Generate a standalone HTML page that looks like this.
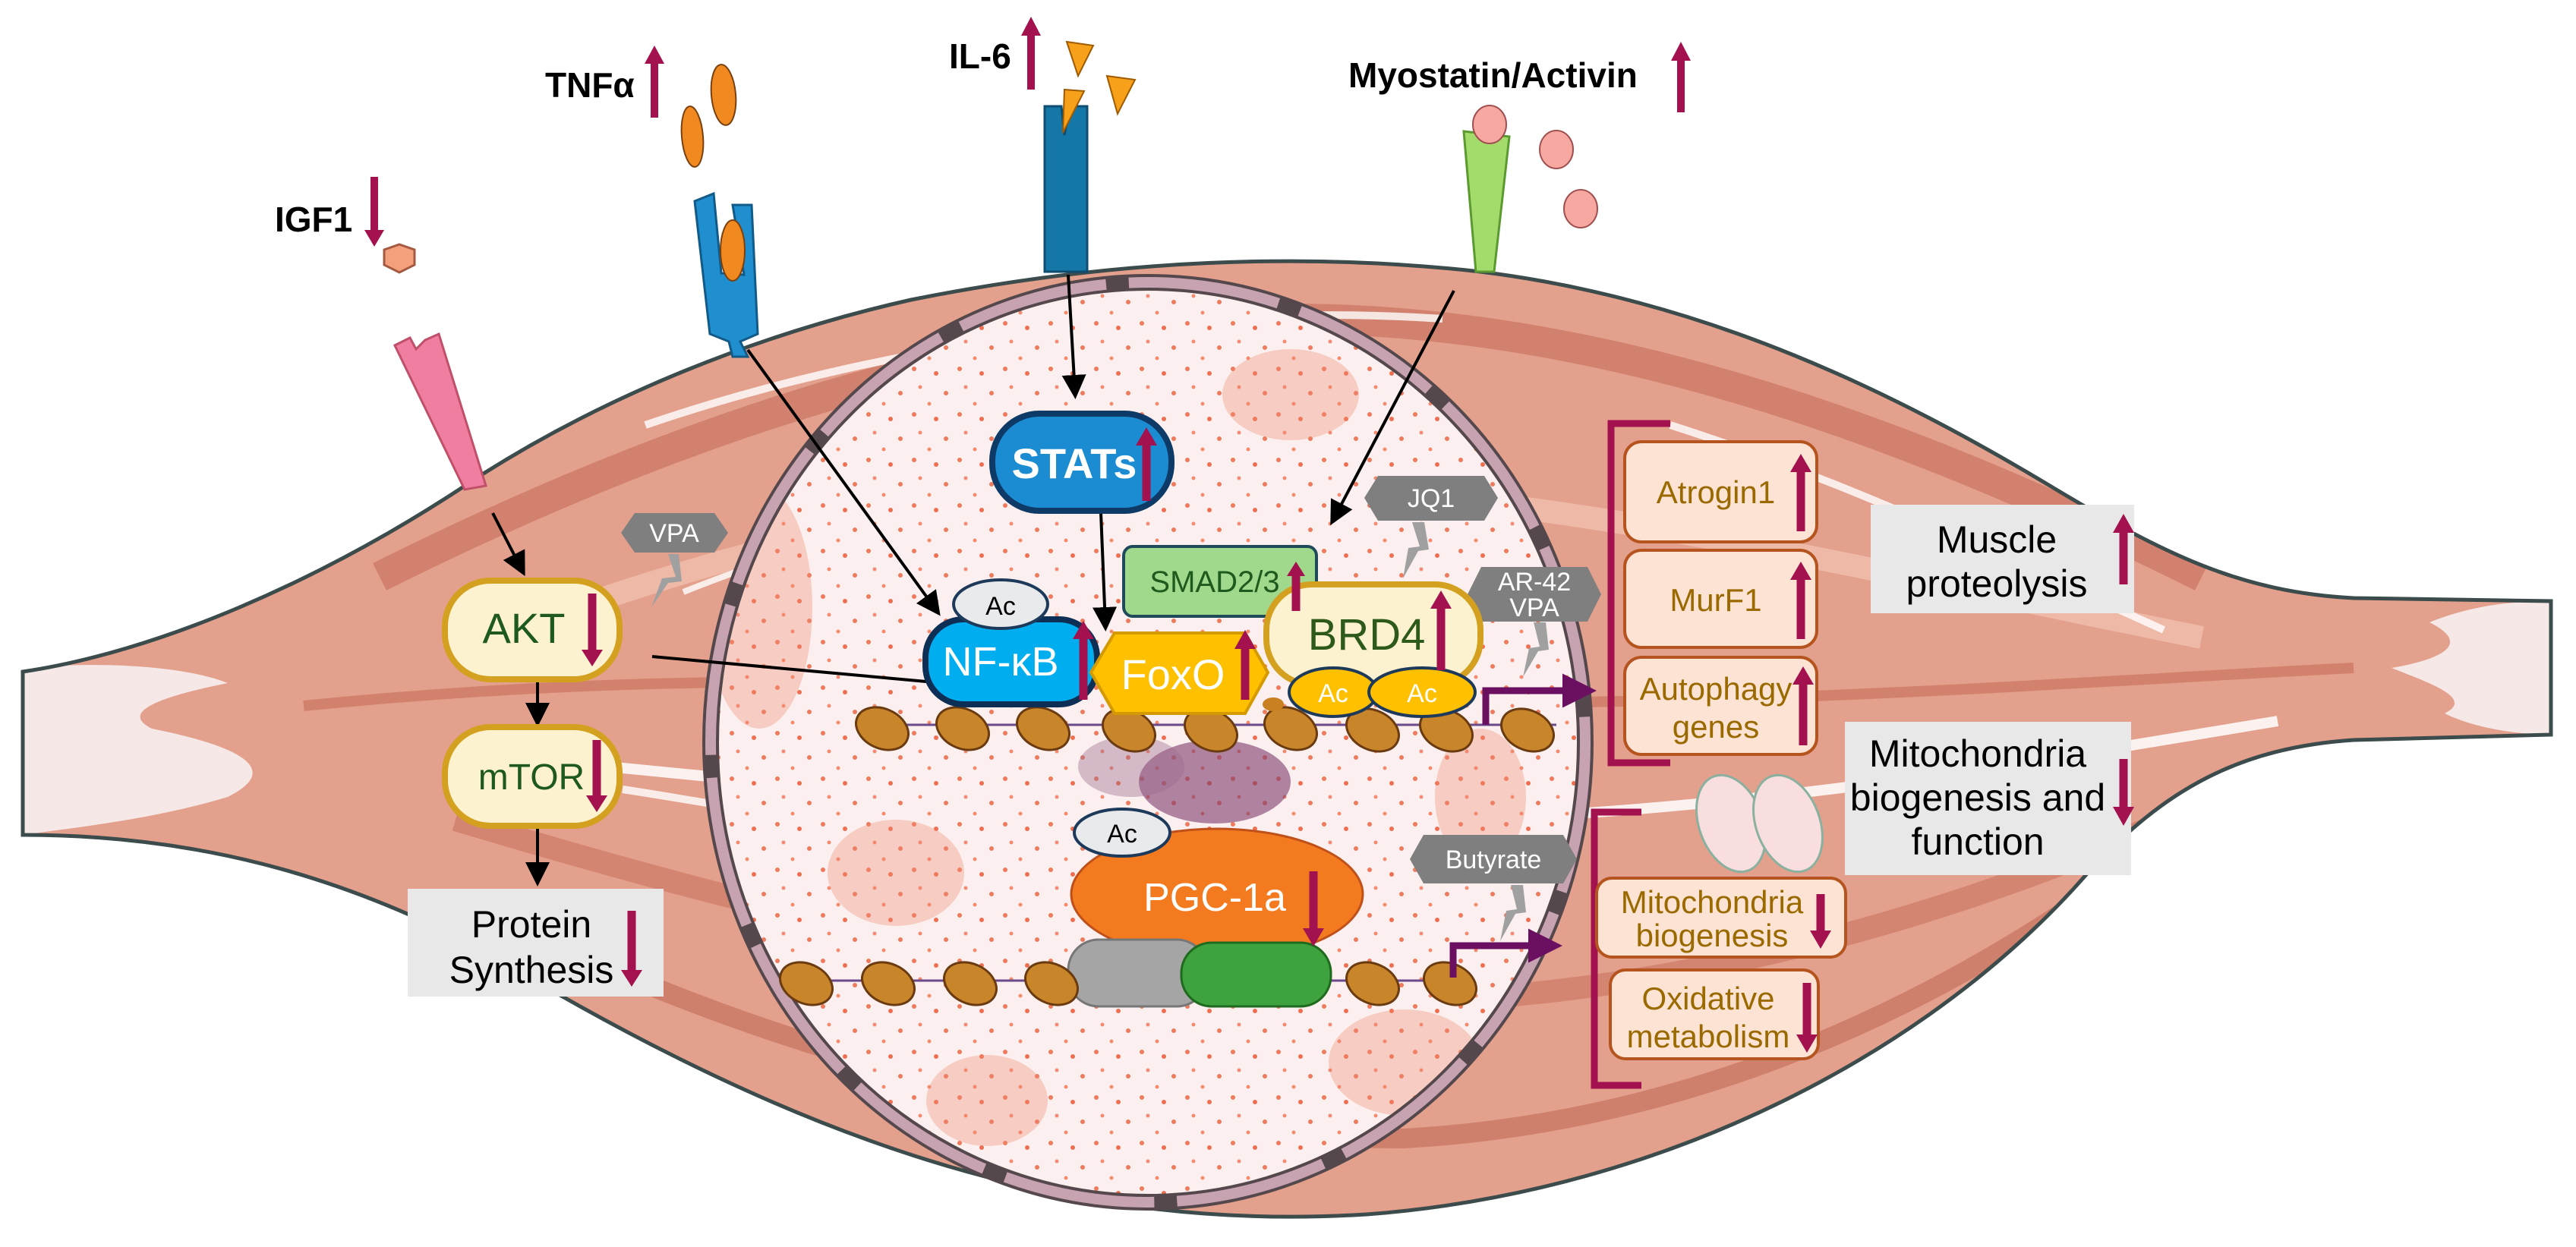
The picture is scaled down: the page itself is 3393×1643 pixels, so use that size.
<!DOCTYPE html>
<html><head><meta charset="utf-8"><style>
html,body{margin:0;padding:0;background:#fff;}
svg{display:block;}
text{font-family:"Liberation Sans",Arial,sans-serif;}
</style></head><body>
<svg width="3393" height="1643" viewBox="0 0 3393 1643" xmlns="http://www.w3.org/2000/svg">
<defs>
<pattern id="dots" width="60" height="60" patternUnits="userSpaceOnUse">
<rect width="60" height="60" fill="#fbf0ef"/>
<circle cx="4" cy="6" r="3" fill="#f07a5c"/><circle cx="33" cy="12" r="3" fill="#ee7052"/>
<circle cx="12" cy="30" r="2.5" fill="#f28b70"/><circle cx="46" cy="38" r="3" fill="#ef7a5e"/>
<circle cx="24" cy="52" r="2.5" fill="#f28b70"/>
</pattern>
<clipPath id="mclip"><path id="mpath" d="M30,885 C200,860 420,770 632,627 C800,520 1000,440 1200,395 C1450,345 1700,330 1950,358 C2250,395 2500,520 2700,640 C2850,730 2950,780 3100,788 L3360,792 L3360,968 L3100,975 C2950,985 2850,1040 2750,1150 C2550,1380 2200,1570 1800,1600 C1400,1625 1050,1500 650,1260 C450,1150 250,1100 30,1100 Z"/></clipPath>
<clipPath id="nclip"><ellipse cx="1512" cy="978" rx="576" ry="606"/></clipPath>
<marker id="ah" markerWidth="8" markerHeight="8" refX="6" refY="4" orient="auto" markerUnits="strokeWidth"><path d="M0,0 L8,4 L0,8 Z" fill="#000"/></marker>
<marker id="ap" markerWidth="5" markerHeight="5" refX="3" refY="2.5" orient="auto" markerUnits="strokeWidth"><path d="M0,0 L5,2.5 L0,5 Z" fill="#6b1060"/></marker>
</defs>

<g clip-path="url(#mclip)">
<rect x="0" y="300" width="3393" height="1343" fill="#e3a08c"/>
<path d="M500,760 C900,560 1300,430 1700,420 C2100,420 2500,560 2900,760" stroke="#c9735f" stroke-width="40" fill="none" opacity="0.7"/>
<path d="M600,860 C1000,700 1400,620 1700,640 C2100,660 2500,760 2900,840" stroke="#f4c3b3" stroke-width="30" fill="none" opacity="0.7"/>
<path d="M400,930 C900,880 1300,900 1700,920 C2200,940 2700,900 3100,880" stroke="#d2826c" stroke-width="14" fill="none"/>
<path d="M700,1000 C1100,1040 1500,1080 1900,1080 C2300,1070 2700,1000 3000,950" stroke="#fff" stroke-width="14" fill="none" opacity="0.85"/>
<path d="M600,1080 C1000,1200 1400,1300 1800,1320 C2200,1320 2600,1200 2900,1060" stroke="#c9735f" stroke-width="30" fill="none" opacity="0.6"/>
<path d="M700,1230 C1100,1420 1500,1500 1850,1500 C2200,1480 2500,1350 2750,1180" stroke="#c26a57" stroke-width="26" fill="none" opacity="0.6"/>
<path d="M850,560 C1200,440 1600,400 1900,420" stroke="#fff" stroke-width="10" fill="none" opacity="0.8"/>
<path d="M2200,560 C2450,640 2650,740 2850,830" stroke="#fff" stroke-width="10" fill="none" opacity="0.8"/>
<path d="M900,780 C1100,700 1200,690 1300,680" stroke="#fff" stroke-width="8" fill="none" opacity="0.8"/>
<path d="M820,1040 C950,1060 1050,1080 1150,1090" stroke="#fff" stroke-width="10" fill="none" opacity="0.8"/>
<path d="M30,880 C150,870 250,880 300,900 C200,920 160,940 200,960 C300,980 380,1010 300,1050 C200,1080 100,1090 30,1100 Z" fill="#f5e8e6"/>
<path d="M3360,792 C3300,792 3250,800 3200,820 C3260,850 3210,870 3150,880 C3200,900 3260,920 3220,940 C3260,960 3320,968 3360,968 Z" fill="#f5e8e6"/>
</g>
<use href="#mpath" fill="none" stroke="#3c4b4b" stroke-width="5"/>

<!-- nucleus -->
<ellipse cx="1512" cy="978" rx="576" ry="606" fill="url(#dots)"/>
<g clip-path="url(#nclip)" fill="#f08a70" opacity="0.35">
<ellipse cx="1000" cy="800" rx="70" ry="160"/>
<ellipse cx="1180" cy="1150" rx="90" ry="70"/>
<ellipse cx="1700" cy="520" rx="90" ry="60"/>
<ellipse cx="1850" cy="1400" rx="100" ry="70"/>
<ellipse cx="1300" cy="1450" rx="80" ry="60"/>
<ellipse cx="1950" cy="1050" rx="60" ry="90"/>
</g>
<ellipse cx="1512" cy="978" rx="576" ry="606" fill="none" stroke="#54484c" stroke-width="22"/>
<ellipse cx="1512" cy="978" rx="576" ry="606" fill="none" stroke="#c7a2b0" stroke-width="14" stroke-dasharray="200 30"/>
<ellipse cx="1600" cy="1030" rx="100" ry="55" fill="#7d3a6a" opacity="0.6"/>
<ellipse cx="1490" cy="1010" rx="70" ry="40" fill="#9a6a8a" opacity="0.4"/>

<path d="M520,455 L540,445 L548,460 L560,448 L578,440 L640,640 L612,645 Z" fill="#f07ea0" stroke="#c0506a" stroke-width="3"/>
<polygon points="526,322 546,329 546,349 526,359 506,349 506,329" fill="#f5a07c" stroke="#a45a40" stroke-width="3"/>
<path d="M915,265 L940,255 L950,360 L980,362 L965,270 L990,270 L998,440 L975,450 L985,470 L965,470 L960,450 L935,440 Z" fill="#1f8fd0" stroke="#125a88" stroke-width="3"/>
<ellipse cx="965" cy="330" rx="16" ry="40" fill="#f08a20" stroke="#7a4010" stroke-width="2"/>
<ellipse cx="953" cy="125" rx="16" ry="40" fill="#f08a20" stroke="#7a4010" stroke-width="2" transform="rotate(-5 953 125)"/>
<ellipse cx="912" cy="180" rx="14" ry="40" fill="#f08a20" stroke="#7a4010" stroke-width="2" transform="rotate(-5 912 180)"/>
<path d="M1376,140 L1398,140 L1402,178 L1410,140 L1432,140 L1432,358 L1376,358 Z" fill="#1577a8" stroke="#0e4c70" stroke-width="3"/>
<polygon points="1402,118 1428,120 1400,175" fill="#f7a11a" stroke="#a05a00" stroke-width="2"/>
<polygon points="1405,55 1440,60 1420,100" fill="#f7a11a" stroke="#a05a00" stroke-width="2"/>
<polygon points="1458,100 1495,105 1472,150" fill="#f7a11a" stroke="#a05a00" stroke-width="2"/>
<path d="M1928,173 L1988,180 L1968,358 L1944,358 Z" fill="#a4dc6c" stroke="#5a9a30" stroke-width="3"/>
<ellipse cx="1962" cy="164" rx="22" ry="25" fill="#f7a8a0" stroke="#a05050" stroke-width="2"/>
<ellipse cx="2050" cy="197" rx="22" ry="25" fill="#f7a8a0" stroke="#a05050" stroke-width="2"/>
<ellipse cx="2082" cy="275" rx="22" ry="25" fill="#f7a8a0" stroke="#a05050" stroke-width="2"/>

<g font-weight="bold" font-size="46" fill="#000">
<text x="362" y="305">IGF1</text>
<text x="718" y="128">TNFα</text>
<text x="1250" y="90">IL-6</text>
<text x="1776" y="115">Myostatin/Activin</text>
</g>
<g stroke="#a3114e" stroke-width="10" fill="#a3114e">
<line x1="493" y1="233" x2="493" y2="305"/><polygon points="480,303 506,303 493,325" stroke="none"/>
<line x1="862" y1="155" x2="862" y2="82"/><polygon points="849,84 875,84 862,60" stroke="none"/>
<line x1="1358" y1="118" x2="1358" y2="45"/><polygon points="1345,47 1371,47 1358,22" stroke="none"/>
<line x1="2214" y1="148" x2="2214" y2="78"/><polygon points="2201,80 2227,80 2214,55" stroke="none"/>
</g>

<g stroke="#000" stroke-width="4" fill="none" marker-end="url(#ah)">
<line x1="649" y1="676" x2="688" y2="752"/>
<line x1="1407" y1="362" x2="1416" y2="518"/>
<line x1="985" y1="461" x2="1234" y2="805"/>
<line x1="1915" y1="383" x2="1756" y2="685"/>
<line x1="708" y1="896" x2="708" y2="950"/>
<line x1="708" y1="1090" x2="708" y2="1160"/>
<line x1="1450" y1="675" x2="1456" y2="824"/>
</g>
<line x1="859" y1="865" x2="1220" y2="898" stroke="#000" stroke-width="4"/>

<rect x="586" y="765" width="230" height="130" rx="60" fill="#fdf2cf" stroke="#d4a020" stroke-width="8"/>
<text x="690" y="847" font-size="56" fill="#1e5a1e" text-anchor="middle">AKT</text>
<rect x="586" y="958" width="230" height="130" rx="60" fill="#fdf2cf" stroke="#d4a020" stroke-width="8"/>
<text x="700" y="1040" font-size="48" fill="#1e5a1e" text-anchor="middle">mTOR</text>
<rect x="537" y="1171" width="337" height="142" fill="#e8e8e8"/>
<text x="700" y="1235" font-size="50" text-anchor="middle">Protein</text>
<text x="700" y="1295" font-size="50" text-anchor="middle">Synthesis</text>

<g fill="#7f7f7f">
<polygon points="818,702 836,676 941,676 959,702 941,728 836,728"/>
<polygon points="1797,656 1815,627 1955,627 1973,656 1955,686 1815,686"/>
<polygon points="1933,783 1951,747 2091,747 2109,783 2091,819 1951,819"/>
<polygon points="1857,1132 1875,1100 2059,1100 2077,1132 2059,1164 1875,1164"/>
</g>
<g fill="#a0a0a0">
<polygon points="880,730 890,760 872,762 858,800 880,768 898,766 894,730"/>
<polygon points="1860,688 1870,720 1855,722 1848,762 1868,726 1882,724 1876,688"/>
<polygon points="2020,820 2028,852 2014,854 2006,892 2026,858 2040,856 2036,820"/>
<polygon points="1990,1166 1998,1198 1984,1200 1976,1240 1996,1204 2010,1202 2006,1166"/>
</g>
<g fill="#fff" font-size="34" text-anchor="middle">
<text x="888" y="714">VPA</text>
<text x="1885" y="668">JQ1</text>
<text x="2021" y="778">AR-42</text>
<text x="2021" y="812">VPA</text>
<text x="1967" y="1144">Butyrate</text>
</g>

<line x1="1140" y1="955" x2="2050" y2="955" stroke="#6a4a8a" stroke-width="3"/>
<g fill="#c8852a" stroke="#6a3a10" stroke-width="3">
<ellipse cx="1162" cy="960" rx="36" ry="26" transform="rotate(25 1162 960)"/>
<ellipse cx="1268" cy="960" rx="36" ry="26" transform="rotate(25 1268 960)"/>
<ellipse cx="1374" cy="960" rx="36" ry="26" transform="rotate(25 1374 960)"/>
<ellipse cx="1487" cy="962" rx="36" ry="26" transform="rotate(25 1487 962)"/>
<ellipse cx="1595" cy="962" rx="36" ry="26" transform="rotate(25 1595 962)"/>
<ellipse cx="1700" cy="960" rx="36" ry="26" transform="rotate(25 1700 960)"/>
<ellipse cx="1808" cy="962" rx="36" ry="26" transform="rotate(25 1808 962)"/>
<ellipse cx="1905" cy="962" rx="36" ry="26" transform="rotate(25 1905 962)"/>
<ellipse cx="2012" cy="962" rx="36" ry="26" transform="rotate(25 2012 962)"/>
</g>

<rect x="1307" y="545" width="236" height="128" rx="62" fill="#1b8cd2" stroke="#0d3a66" stroke-width="8"/>
<text x="1415" y="630" font-size="56" font-weight="bold" fill="#fff" text-anchor="middle">STATs</text>
<rect x="1480" y="720" width="254" height="92" rx="12" fill="#a0d88c" stroke="#1e4a5a" stroke-width="4"/>
<text x="1600" y="780" font-size="40" fill="#1e5a1e" text-anchor="middle">SMAD2/3</text>
<rect x="1219" y="816" width="226" height="112" rx="50" fill="#00aeef" stroke="#0d2f55" stroke-width="8"/>
<text x="1318" y="890" font-size="54" fill="#fff" text-anchor="middle">NF-κB</text>
<ellipse cx="1318" cy="796" rx="62" ry="32" fill="#e8eaec" stroke="#1e3a5a" stroke-width="4"/>
<text x="1318" y="810" font-size="34" text-anchor="middle">Ac</text>
<polygon points="1437,886 1468,834 1640,834 1670,886 1640,940 1468,940" fill="#ffc000" stroke="#d49a00" stroke-width="4"/>
<text x="1545" y="908" font-size="56" fill="#fff" text-anchor="middle">FoxO</text>
<rect x="1668" y="770" width="282" height="132" rx="60" fill="#fdf2cf" stroke="#d4a020" stroke-width="8"/>
<text x="1800" y="856" font-size="58" fill="#2d5a1b" text-anchor="middle">BRD4</text>
<ellipse cx="1756" cy="912" rx="58" ry="32" fill="#ffc000" stroke="#1e3a5a" stroke-width="4"/>
<ellipse cx="1873" cy="912" rx="70" ry="32" fill="#ffc000" stroke="#1e3a5a" stroke-width="4"/>
<text x="1756" y="925" font-size="34" fill="#fff" text-anchor="middle">Ac</text>
<text x="1873" y="925" font-size="34" fill="#fff" text-anchor="middle">Ac</text>
<ellipse cx="1677" cy="928" rx="14" ry="9" fill="#c88020"/>

<line x1="1040" y1="1292" x2="1940" y2="1292" stroke="#6a4a8a" stroke-width="3"/>
<ellipse cx="1603" cy="1178" rx="192" ry="86" fill="#f47a20" stroke="#c0501a" stroke-width="3"/>
<text x="1600" y="1200" font-size="52" fill="#fff" text-anchor="middle">PGC-1a</text>
<ellipse cx="1478" cy="1097" rx="63" ry="31" fill="#e8eaec" stroke="#1e3a5a" stroke-width="4"/>
<text x="1478" y="1110" font-size="34" text-anchor="middle">Ac</text>
<rect x="1407" y="1238" width="183" height="88" rx="40" fill="#a5a5a5" stroke="#777" stroke-width="3"/>
<rect x="1556" y="1242" width="197" height="84" rx="40" fill="#3ea33e" stroke="#1e6a1e" stroke-width="3"/>
<g fill="#c8852a" stroke="#6a3a10" stroke-width="3">
<ellipse cx="1062" cy="1296" rx="36" ry="26" transform="rotate(25 1062 1296)"/>
<ellipse cx="1170" cy="1296" rx="36" ry="26" transform="rotate(25 1170 1296)"/>
<ellipse cx="1278" cy="1296" rx="36" ry="26" transform="rotate(25 1278 1296)"/>
<ellipse cx="1385" cy="1296" rx="36" ry="26" transform="rotate(25 1385 1296)"/>
<ellipse cx="1808" cy="1296" rx="36" ry="26" transform="rotate(25 1808 1296)"/>
<ellipse cx="1910" cy="1296" rx="36" ry="26" transform="rotate(25 1910 1296)"/>
</g>

<path d="M1957,955 L1957,910 L2085,910" stroke="#6b1060" stroke-width="9" fill="none" marker-end="url(#ap)"/>
<path d="M1914,1288 L1914,1246 L2040,1246" stroke="#6b1060" stroke-width="9" fill="none" marker-end="url(#ap)"/>

<path d="M2200,558 L2122,558 L2122,1005 L2200,1005" stroke="#a3114e" stroke-width="9" fill="none"/>
<path d="M2162,1070 L2100,1070 L2100,1430 L2162,1430" stroke="#a3114e" stroke-width="9" fill="none"/>

<g fill="#fde3d3" stroke="#b5541e" stroke-width="4">
<rect x="2140" y="582" width="253" height="132" rx="22"/>
<rect x="2140" y="725" width="253" height="128" rx="22"/>
<rect x="2140" y="866" width="253" height="128" rx="22"/>
<rect x="2103" y="1157" width="328" height="104" rx="20"/>
<rect x="2121" y="1278" width="274" height="117" rx="20"/>
</g>
<g fill="#9a6a00" font-size="42" text-anchor="middle">
<text x="2260" y="663">Atrogin1</text>
<text x="2260" y="805">MurF1</text>
<text x="2260" y="922">Autophagy</text>
<text x="2260" y="972">genes</text>
<text x="2255" y="1203">Mitochondria</text>
<text x="2255" y="1247">biogenesis</text>
<text x="2250" y="1330">Oxidative</text>
<text x="2250" y="1380">metabolism</text>
</g>

<ellipse cx="2280" cy="1085" rx="42" ry="66" fill="#f8dede" stroke="#8ab0a0" stroke-width="3" transform="rotate(-20 2280 1085)"/>
<ellipse cx="2355" cy="1085" rx="42" ry="66" fill="#f8dede" stroke="#8ab0a0" stroke-width="3" transform="rotate(-20 2355 1085)"/>

<rect x="2464" y="665" width="347" height="143" fill="#e8e8e8"/>
<text x="2630" y="728" font-size="50" text-anchor="middle">Muscle</text>
<text x="2630" y="786" font-size="50" text-anchor="middle">proteolysis</text>
<rect x="2430" y="951" width="377" height="202" fill="#e8e8e8"/>
<text x="2605" y="1010" font-size="50" text-anchor="middle">Mitochondria</text>
<text x="2605" y="1068" font-size="50" text-anchor="middle">biogenesis and</text>
<text x="2605" y="1126" font-size="50" text-anchor="middle">function</text>

<g stroke="#a3114e" stroke-width="11" fill="#a3114e">
<line x1="780" y1="782" x2="780" y2="858"/><polygon points="766,856 794,856 780,878" stroke="none"/>
<line x1="786" y1="975" x2="786" y2="1050"/><polygon points="772,1048 800,1048 786,1070" stroke="none"/>
<line x1="832" y1="1200" x2="832" y2="1280"/><polygon points="818,1278 846,1278 832,1300" stroke="none"/>
<line x1="1510" y1="660" x2="1510" y2="585"/><polygon points="1496,587 1524,587 1510,563" stroke="none"/>
<line x1="1427" y1="922" x2="1427" y2="840"/><polygon points="1413,842 1441,842 1427,818" stroke="none"/>
<line x1="1640" y1="922" x2="1640" y2="853"/><polygon points="1626,855 1654,855 1640,830" stroke="none"/>
<line x1="1707" y1="805" x2="1707" y2="757"/><polygon points="1695,759 1719,759 1707,740" stroke="none"/>
<line x1="1898" y1="883" x2="1898" y2="800"/><polygon points="1884,802 1912,802 1898,778" stroke="none"/>
<line x1="1730" y1="1148" x2="1730" y2="1225"/><polygon points="1716,1223 1744,1223 1730,1247" stroke="none"/>
<line x1="2372" y1="700" x2="2372" y2="620"/><polygon points="2358,622 2386,622 2372,598" stroke="none"/>
<line x1="2372" y1="842" x2="2372" y2="762"/><polygon points="2358,764 2386,764 2372,740" stroke="none"/>
<line x1="2375" y1="982" x2="2375" y2="900"/><polygon points="2361,902 2389,902 2375,878" stroke="none"/>
<line x1="2398" y1="1178" x2="2398" y2="1228"/><polygon points="2384,1226 2412,1226 2398,1250" stroke="none"/>
<line x1="2380" y1="1295" x2="2380" y2="1365"/><polygon points="2366,1363 2394,1363 2380,1387" stroke="none"/>
<line x1="2797" y1="770" x2="2797" y2="700"/><polygon points="2783,702 2811,702 2797,677" stroke="none"/>
<line x1="2797" y1="1000" x2="2797" y2="1065"/><polygon points="2783,1063 2811,1063 2797,1088" stroke="none"/>
</g>
</svg>
</body></html>
